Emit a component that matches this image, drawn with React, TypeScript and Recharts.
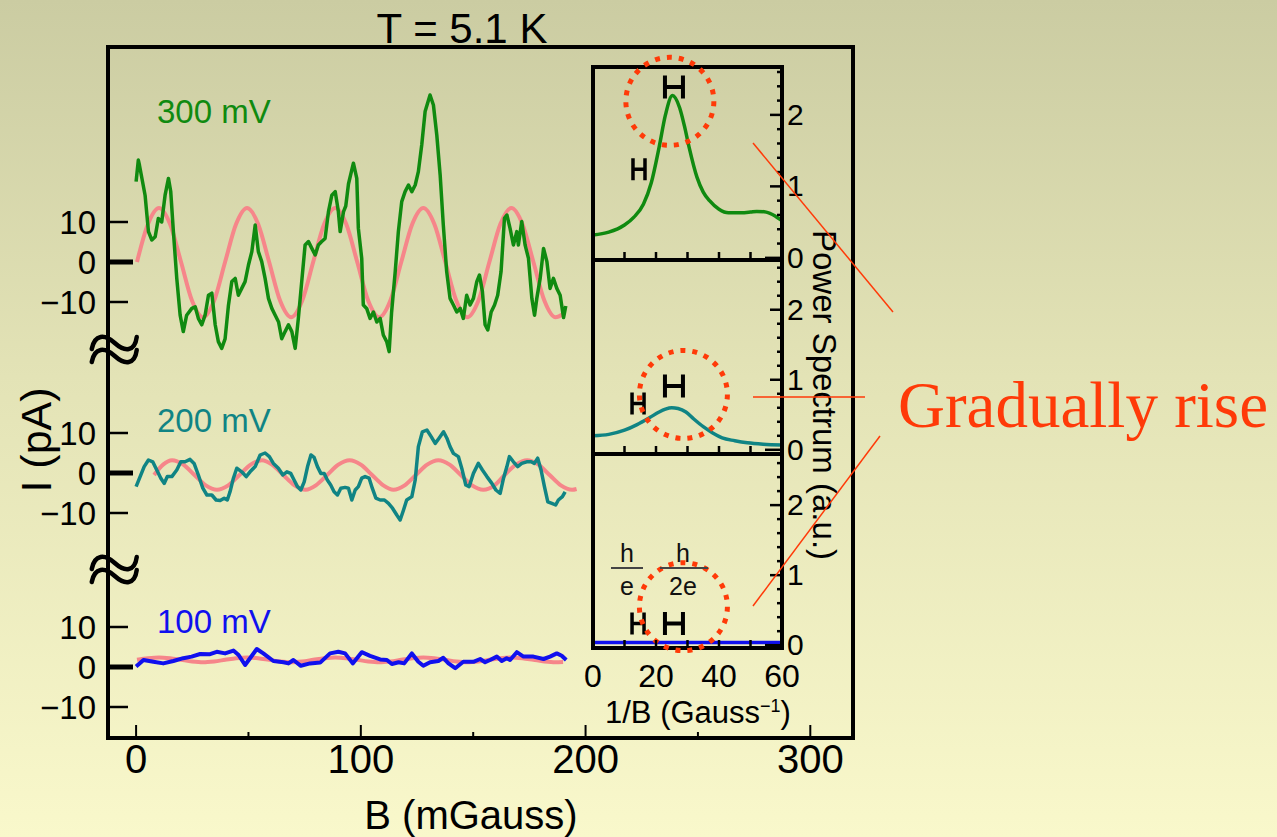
import React from 'react';
import { LineChart, Line, XAxis, YAxis, ReferenceDot } from 'recharts';

const FONT = '"Liberation Sans", Arial, Helvetica, sans-serif';

// ---- main panel: I (pA) vs B (mGauss), three bias voltages stacked ----
const TRACE_300: [number, number][] = [
  [0, 20.1], [1, 25.5], [1.5, 24.2], [4, 16.7], [5.5, 7.6], [7, 5.5], [8.5, 6.3], [9.9, 10.9], [11.4, 10],
  [12.9, 16.7], [14.4, 20.9], [15.4, 17.7], [16.6, 7.6], [18.1, -4.1], [19.6, -13.3], [21, -17.4], [22.5, -13.3],
  [24.8, -11.6], [26.3, -11.2], [27.7, -14.1], [29.2, -15.7], [30.7, -13.3], [32.2, -8.3], [33.7, -7.8],
  [35.2, -15.7], [36.6, -19.9], [38.1, -21.6], [39.6, -19.2], [41.1, -10.8], [42.6, -4.9], [44.1, -4.1],
  [45.5, -8.3], [47, -6.6], [48.5, -4.9], [50, -0.75], [51.5, 2.6], [53, 9.25], [54.4, 2.6], [55.9, 0.1],
  [57.4, -4.1], [58.9, -9.1], [60.4, -11.6], [61.9, -13.3], [63.4, -15], [64.8, -19.2], [66.3, -17.4],
  [67.8, -15.7], [69.3, -17.4], [70.8, -21.6], [72.2, -14.1], [73.7, -4.9], [75.2, 4.25], [76.7, 5.1],
  [78.2, 3.4], [79.7, 1.75], [81.1, 4.25], [82.6, 5.1], [84.1, 5.9], [85.6, 12.6], [87.1, 16.7], [88.6, 17.6],
  [90, 12.6], [90.8, 7.6], [92.3, 12.6], [93.3, 14], [94.5, 19.5], [96.7, 24.7], [98.2, 20.9], [98.9, 8.4],
  [100.4, 0.9], [101.1, -10.75], [102.6, -11.6], [104.1, -14.1], [105.6, -12.5], [107.1, -15], [108.6, -14.1],
  [110, -18.25], [111.5, -19.9], [112.6, -22.4], [113.7, -12.5], [115.3, -2.4], [116.7, 7.6], [118.2, 15.1],
  [119.7, 17.6], [121.2, 19.25], [122.7, 17.6], [124.2, 19.25], [125.6, 22.6], [127.1, 29.25], [128.6, 37.6],
  [130.8, 41.75], [132.3, 39.25], [133.8, 31.75], [135.3, 21.75], [136.7, 9.25], [138.2, -2.4], [139.7, -9.1],
  [141.2, -10.75], [142.7, -12.5], [144.2, -11.6], [145.6, -14.1], [147.1, -8.3], [148.6, -10.75], [150.1, -9.1],
  [151.6, -4.9], [152.8, -3.25], [154.1, -7.4], [155.3, -15.7], [156.5, -17], [158, -12.5], [159.5, -10.75],
  [160.9, -8.3], [162.4, -2.4], [163.9, 10.9], [165, 11.75], [166.4, 8.4], [167.9, 4.25], [169.4, 7.6],
  [170.1, 4.25], [171.6, 10.1], [173.1, 4.25], [174.6, 0.9], [176.1, -9.1], [177.3, -13.3], [178.3, -9.1],
  [179.8, -4.1], [181.3, 3.4], [182.8, 0.1], [184.2, -6.6], [185.7, -4.1], [187.2, -6.6], [188.7, -8.3],
  [190.2, -13.9], [191.2, -11],
];

const TRACE_200: [number, number][] = [
  [0, -3.4], [1.8, -0.9], [3.6, 1.6], [5.5, 3.25], [7.4, 2.8], [9.2, 0.75], [11, -1.3], [12.5, -2.6],
  [13.9, -0.9], [15.9, -0.9], [18.1, 0.75], [19.9, 2.8], [21.8, 2.8], [24, 3.4], [25.8, 2.4], [27.7, -0.5],
  [29.7, -3.8], [31.5, -5.5], [33.7, -5.5], [35.6, -6.75], [37.4, -6.9], [39.2, -6.3], [40.6, -6.75],
  [41.8, -4.7], [43.3, -1.3], [44.8, 1.2], [47, 0.3], [49, -0.9], [50.7, 0.3], [53, 1.6], [55.2, 4.5],
  [57.4, 5], [59.3, 4.1], [61.1, 2.4], [63.3, 1.2], [65.3, -0.5], [67.1, 0.3], [68.8, -0.1], [70.3, -1.75],
  [71.8, -3.4], [73.3, -4.25], [74.8, -2.2], [76.3, 1.6], [77.8, 4.5], [79.2, 3.9], [80.7, 1.6], [82.2, -0.1],
  [83.7, -0.1], [85.1, -1.75], [86.6, -3], [88.1, -4.7], [89.6, -5.5], [91.1, -3.8], [93, -3.6], [94.5, -3.8],
  [96, -6.75], [97.5, -4.25], [98.9, -3.4], [100.4, -1.3], [101.9, -0.9], [103.7, -1.3], [105.1, -3.8],
  [106.7, -6.3], [108.6, -6.75], [110.5, -6.75], [112.3, -7.6], [114.1, -8.8], [116, -10.5], [117.5, -11.75],
  [119, -9.25], [120.4, -6.75], [122.7, -5.9], [124.2, -1.75], [125.6, 6.6], [127.4, 10.3], [129.4, 10.75],
  [131.3, 9.1], [133.1, 7.4], [134.8, 8.7], [136.8, 10.3], [138.3, 8.7], [139.7, 6.6], [141.2, 4.9],
  [143.4, 4.1], [144.9, 1.2], [146.7, -3], [148.2, -3.4], [150.1, -0.1], [152.3, 2.4], [154.1, 0.75],
  [156.1, -0.9], [158.3, -2.6], [160.1, -4.25], [162, -5.1], [163.5, -1.3], [165, 1.6], [166.1, 4.1],
  [167.9, 2.8], [169.8, 1.6], [171.6, 2.4], [173.8, 2.8], [175.8, 2.8], [177.2, 2.4], [178.7, 3.7],
  [180.2, 0.75], [181.7, -3.4], [183.2, -7.2], [185, -7.6], [186.7, -8], [187.9, -6.75], [189.7, -5.9],
  [190.9, -4.7],
];

const TRACE_100: [number, number][] = [
  [0, 0.1], [3.3, 1.75], [7.7, 1.3], [12.1, 0.9], [16.6, 1.5], [21, 2.2], [24.7, 2.6], [28.5, 3.25],
  [32.9, 3.2], [35.9, 3.8], [39.6, 3.4], [43.3, 4.1], [45.6, 3], [48.5, 0.5], [50.7, 2.2], [53.7, 4.5],
  [56.6, 3.4], [61.1, 1.5], [65.6, 1.2], [67.8, 0.9], [70, 1.75], [73.3, 0.3], [77.4, 0.9], [81.9, 1.1],
  [86.3, 3.4], [90, 3.8], [93, 3.4], [96.4, 0.9], [100.4, 3.7], [104.1, 2.8], [108.6, 1.9], [111.6, 1.75],
  [113.8, 0.75], [116.8, 1.2], [119.3, 0.9], [122.7, 3.4], [125.6, 1.3], [127.8, 0.3], [130.8, 1.2],
  [134.5, 1.5], [136.7, 2.3], [139, 0.9], [142, -0.3], [145.6, 1.3], [150.1, 1.3], [153.1, 2], [155.3, 1.2],
  [157.5, 1.75], [160.5, 2.6], [162.7, 1.5], [164.9, 2.2], [166.4, 1.75], [169.4, 3.7], [172.4, 2.6],
  [176.8, 2.6], [181.3, 2], [184.2, 2.6], [187.2, 3.4], [189.4, 2.8], [191.4, 1.75],
];

// sinusoidal fits (pink)
const FIT_B = [0.4, 5.3, 10.2, 15.1, 20, 24.9, 29.8, 34.7, 39.6, 44.5, 49.4, 54.3, 59.2, 64.1, 69, 73.9, 78.8,
  83.7, 88.6, 93.5, 98.4, 103.3, 108.2, 113.1, 118, 122.9, 127.8, 132.7, 137.6, 142.5, 147.4, 152.3, 157.2,
  162.1, 167, 171.9, 176.8, 181.7, 186.6, 190];
const FIT_300 = [0, 9.5, 13.5, 9.5, 0, -9.7, -13.8, -9.7, 0, 9.5, 13.5, 9.5, 0, -9.7, -13.8, -9.7, 0, 9.5, 13.5,
  9.5, 0, -9.7, -13.8, -9.7, 0, 9.5, 13.5, 9.5, 0, -9.7, -13.8, -9.7, 0, 9.5, 13.5, 9.5, 0, -9.7, -13.8, -13];
const FIT_100 = [1.8, 2.2, 2.4, 2.2, 1.8, 1.4, 1.2, 1.4, 1.8, 2.2, 2.4, 2.2, 1.8, 1.4, 1.2, 1.4, 1.8, 2.2, 2.4,
  2.2, 1.8, 1.4, 1.2, 1.4, 1.8, 2.2, 2.4, 2.2, 1.8, 1.4, 1.2, 1.4, 1.8, 2.2, 2.4, 2.2, 1.8, 1.4, 1.2, 1.25];
const FIT200_B = [8, 12, 16, 21, 26, 31, 36, 41, 46, 51, 56, 60.5, 65.5, 70.5, 75.5, 80, 85, 90, 95, 100, 105,
  110, 114.5, 119.5, 124.5, 129.5, 134.5, 139.5, 144.5, 149.5, 154.5, 159.5, 164, 169, 174, 179, 184, 189, 194, 196];
const FIT_200 = [-0.5, 2.1, 3.2, 2.1, -0.5, -3.1, -4.2, -3.1, -0.5, 2.1, 3.2, 2.1, -0.5, -3.1, -4.2, -3.1, -0.5,
  2.1, 3.2, 2.1, -0.5, -3.1, -4.2, -3.1, -0.5, 2.1, 3.2, 2.1, -0.5, -3.1, -4.2, -3.1, -0.5, 2.1, 3.2, 2.1, -0.5,
  -3.1, -4.2, -4.0];

const GROUP_OFFSET = [0, 48.5, 101.25]; // 100, 200, 300 mV traces stacked
const Y_TICKS = [-10, 0, 10];
const X_TICKS = [0, 50, 100, 150, 200, 250, 300];
const X_LABELS = [0, 100, 200, 300];
const BREAKS = [24.25, 79.25];

// ---- inset: power spectrum vs 1/B ----
const PS_300: [number, number][] = [
  [0, 0.32], [5, 0.36], [10, 0.46], [13, 0.57], [16, 0.75], [18.5, 1.05], [21, 1.55], [23, 2.0], [25.2, 2.27],
  [27.5, 2.1], [29, 1.85], [30.5, 1.55], [33, 1.13], [35, 0.92], [37, 0.8], [40, 0.68], [43, 0.63], [47, 0.63],
  [50, 0.64], [52, 0.65], [55, 0.64], [58, 0.58], [60, 0.52],
];
const PS_200: [number, number][] = [
  [0, 0.2], [5, 0.22], [10, 0.28], [14, 0.36], [18, 0.46], [21, 0.54], [23, 0.58], [25, 0.6], [27, 0.59],
  [29.5, 0.54], [32, 0.44], [35, 0.33], [38, 0.24], [41, 0.17], [45, 0.13], [49, 0.1], [54, 0.08], [60, 0.07],
];
const PS_100: [number, number][] = [
  [0, 0.04], [10, 0.04], [20, 0.04], [30, 0.04], [40, 0.04], [50, 0.04], [60, 0.04],
];
const INV_B_TICKS = [0, 10, 20, 30, 40, 50, 60];
const INV_B_LABELS = [0, 20, 40, 60];
const PS_TICKS = [0, 0.2, 0.4, 0.6, 0.8, 1, 1.2, 1.4, 1.6, 1.8, 2, 2.2, 2.4, 2.6];

const GREEN = '#108a10';
const TEAL = '#108484';
const BLUE = '#1010ee';
const PINK = '#f6868a';
const RED = '#ff3a08';

const toRows = (pts: [number, number][], off = 0) => pts.map(([b, v]) => ({ b, v: v + off }));
const fitRows = (xs: number[], ys: number[], off: number) => xs.map((b, i) => ({ b, v: ys[i] + off }));

function MainYTick({ x, y, payload }: any) {
  const v = payload.value;
  const off = GROUP_OFFSET.find((o) => Math.abs(v - o) <= 10.01) ?? 0;
  const lab = Math.round(v - off);
  const zero = lab === 0;
  return (
    <g>
      <line x1={x} x2={x + (zero ? 25 : 20)} y1={y} y2={y} stroke="#000" strokeWidth={zero ? 5 : 2.5} />
      <text x={x - 12} y={y + 12} textAnchor="end" fontSize={33} fontFamily={FONT} fill="#000">
        {lab < 0 ? `\u2212${-lab}` : lab}
      </text>
    </g>
  );
}

function MainXTick({ x, y, payload, top }: any) {
  const v = payload.value;
  const major = X_LABELS.includes(v);
  const len = major ? 13 : 6;
  return (
    <g>
      <line x1={x} x2={x} y1={y} y2={top ? y + len : y - len} stroke="#000" strokeWidth={2} />
      {!top && major && (
        <text x={x} y={y + 35} textAnchor="middle" fontSize={40} fontFamily={FONT} fill="#000">{v}</text>
      )}
    </g>
  );
}

function PsYTick({ x, y, payload }: any) {
  const v = payload.value;
  const major = Math.abs(v - Math.round(v)) < 1e-6;
  const len = v === 0 ? 17 : major ? 12 : 5;
  return (
    <g>
      <line x1={x} x2={x - len} y1={y} y2={y} stroke="#000" strokeWidth={2.5} />
      {major && (
        <text x={x + 5} y={y + 10} fontSize={30} fontFamily={FONT} fill="#000">{Math.round(v)}</text>
      )}
    </g>
  );
}

function PsXTick({ x, y, payload, labels }: any) {
  const v = payload.value;
  return (
    <g>
      {v > 0 && v < 60 && <line x1={x} x2={x} y1={y} y2={y - 8} stroke="#000" strokeWidth={2.5} />}
      {labels && INV_B_LABELS.includes(v) && (
        <text x={x} y={y + 39} textAnchor="middle" fontSize={32} fontFamily={FONT} fill="#000">{v}</text>
      )}
    </g>
  );
}

const tilde = (cx: number, cy: number) =>
  `M ${cx - 23} ${cy + 6} C ${cx - 20} ${cy - 9}, ${cx - 10} ${cy - 9}, ${cx} ${cy} S ${cx + 20} ${cy + 9}, ${cx + 22} ${cy - 6}`;

const BreakMark = ({ cx, cy }: any) => (
  <g fill="none" stroke="#000" strokeWidth={4.5} strokeLinecap="round">
    <path d={tilde(cx, cy - 7)} />
    <path d={tilde(cx, cy + 6)} />
  </g>
);

const HMark = ({ cx, cy, w, h, sw }: any) => (
  <path
    d={`M ${cx - w} ${cy - h} V ${cy + h} M ${cx + w} ${cy - h} V ${cy + h} M ${cx - w} ${cy} H ${cx + w}`}
    stroke="#000" strokeWidth={sw} fill="none"
  />
);

const Ring = ({ cx, cy }: any) => (
  <circle cx={cx} cy={cy} r={44} fill="none" stroke={RED} strokeWidth={5} strokeDasharray="5 7" />
);

const PANELS = [
  { data: PS_300, color: GREEN, top: 67, bottom: 260, domain: [-0.03, 2.67], ring: [24.4, 2.19], big: [25.7, 2.39], small: [14.6, 1.24], labels: false },
  { data: PS_200, color: TEAL, top: 260, bottom: 454, domain: [-0.06, 2.71], ring: [28.7, 0.79], big: [25.7, 0.91], small: [14.3, 0.66], labels: false },
  { data: PS_100, color: BLUE, top: 454, bottom: 648, domain: [-0.04, 2.73], ring: [28.7, 0.55], big: [25.7, 0.31], small: [14.3, 0.31], labels: true },
];

function Panel({ p }: any) {
  const xh = p.labels ? 60 : 1;
  const height = 20 + (p.bottom - p.top) + xh + 24;
  return (
    <div style={{ position: 'absolute', left: 583, top: p.top - 20 }}>
      <LineChart width={269} height={height} margin={{ top: 19, right: 10, bottom: 24, left: 9 }}>
        <XAxis dataKey="b" type="number" domain={[0, 60]} ticks={INV_B_TICKS} interval={0} allowDataOverflow
          height={xh} tickSize={0} tickMargin={0} tickLine={false}
          axisLine={{ stroke: '#000', strokeWidth: 4, strokeLinecap: 'square' }}
          tick={(t: any) => <PsXTick {...t} labels={p.labels} />} />
        <XAxis xAxisId="top" orientation="top" dataKey="b" type="number" domain={[0, 60]} height={1}
          tick={false} tickLine={false} axisLine={{ stroke: '#000', strokeWidth: 4, strokeLinecap: 'square' }} />
        <YAxis yAxisId="l" type="number" domain={p.domain} width={1} tick={false} tickLine={false}
          axisLine={{ stroke: '#000', strokeWidth: 4, strokeLinecap: 'square' }} />
        <YAxis yAxisId="r" orientation="right" type="number" domain={p.domain} ticks={PS_TICKS} interval={0}
          allowDataOverflow width={60} tickSize={0} tickMargin={0} tickLine={false}
          axisLine={{ stroke: '#000', strokeWidth: 4, strokeLinecap: 'square' }} tick={PsYTick} />
        <Line yAxisId="r" data={toRows(p.data)} dataKey="v" type="monotone" stroke={p.color} strokeWidth={3.5}
          dot={false} activeDot={false} isAnimationActive={false} />
        <ReferenceDot yAxisId="r" x={p.small[0]} y={p.small[1]} ifOverflow="visible"
          shape={(s: any) => <HMark cx={s.cx} cy={s.cy} w={6} h={11} sw={3.5} />} />
        <ReferenceDot yAxisId="r" x={p.big[0]} y={p.big[1]} ifOverflow="visible"
          shape={(s: any) => <HMark cx={s.cx} cy={s.cy} w={9} h={11.5} sw={4} />} />
        <ReferenceDot yAxisId="r" x={p.ring[0]} y={p.ring[1]} ifOverflow="visible" shape={Ring} />
      </LineChart>
    </div>
  );
}

export default function App() {
  const yTicks = GROUP_OFFSET.flatMap((o) => Y_TICKS.map((t) => o + t));
  const frame = { stroke: '#000', strokeWidth: 4, strokeLinecap: 'square' as const };
  const fits = [
    fitRows(FIT_B, FIT_100, GROUP_OFFSET[0]),
    fitRows(FIT200_B, FIT_200, GROUP_OFFSET[1]),
    fitRows(FIT_B, FIT_300, GROUP_OFFSET[2]),
  ];
  return (
    <div style={{
      position: 'absolute', left: 0, top: 0, width: 1277, height: 837, overflow: 'hidden',
      background: 'linear-gradient(to bottom, #cbcca2 0%, #e3e3b6 45%, #f9f8cb 100%)', fontFamily: FONT,
    }}>
      <div style={{ position: 'absolute', left: 0, top: 0 }}>
        <LineChart width={1277} height={837} margin={{ top: 46, right: 423, bottom: 39, left: 48 }}>
          <XAxis dataKey="b" type="number" domain={[-12.5, 319]} ticks={X_TICKS} interval={0} allowDataOverflow
            height={60} tickSize={0} tickMargin={0} tickLine={false} axisLine={frame}
            tick={(t: any) => <MainXTick {...t} />} />
          <XAxis xAxisId="top" orientation="top" dataKey="b" type="number" domain={[-12.5, 319]} ticks={X_TICKS}
            interval={0} height={1} tickSize={0} tickMargin={0} tickLine={false} axisLine={frame}
            tick={(t: any) => <MainXTick {...t} top />} />
          <YAxis type="number" domain={[-17.75, 155]} ticks={yTicks} interval={0} allowDataOverflow width={60}
            tickSize={0} tickMargin={0} tickLine={false} axisLine={frame} tick={MainYTick} />
          <YAxis yAxisId="r" orientation="right" type="number" domain={[-17.75, 155]} width={1}
            tick={false} tickLine={false} axisLine={frame} />
          {fits.map((rows, i) => (
            <Line key={`fit-${i}`} data={rows} dataKey="v" type="monotone" stroke={PINK} strokeWidth={4}
              dot={false} activeDot={false} isAnimationActive={false} />
          ))}
          <Line data={toRows(TRACE_100, GROUP_OFFSET[0])} dataKey="v" type="linear" stroke={BLUE} strokeWidth={4}
            strokeLinejoin="round" dot={false} activeDot={false} isAnimationActive={false} />
          <Line data={toRows(TRACE_200, GROUP_OFFSET[1])} dataKey="v" type="linear" stroke={TEAL} strokeWidth={3.5}
            strokeLinejoin="round" dot={false} activeDot={false} isAnimationActive={false} />
          <Line data={toRows(TRACE_300, GROUP_OFFSET[2])} dataKey="v" type="linear" stroke={GREEN} strokeWidth={3.5}
            strokeLinejoin="round" dot={false} activeDot={false} isAnimationActive={false} />
          {BREAKS.map((y) => (
            <ReferenceDot key={y} x={-9.5} y={y} ifOverflow="visible" shape={BreakMark} />
          ))}
        </LineChart>
      </div>

      {PANELS.map((p, i) => <Panel key={i} p={p} />)}

      <svg width={1277} height={837} style={{ position: 'absolute', left: 0, top: 0, pointerEvents: 'none' }}
        fontFamily={FONT}>
        <text x={462} y={43} textAnchor="middle" fontSize={42} fill="#000">T = 5.1 K</text>
        <text x={471} y={829} textAnchor="middle" fontSize={40} fill="#000">B (mGauss)</text>
        <text transform="translate(51,440) rotate(-90)" textAnchor="middle" fontSize={43} fill="#000">I (pA)</text>
        <text x={157} y={123} fontSize={33} fill={GREEN}>300 mV</text>
        <text x={157} y={432} fontSize={33} fill={TEAL}>200 mV</text>
        <text x={157} y={633} fontSize={33} fill={BLUE}>100 mV</text>
        <text transform="translate(813,395) rotate(90)" textAnchor="middle" fontSize={33} fill="#000">
          Power Spectrum (a.u.)
        </text>
        <text x={605} y={723} fontSize={31} fill="#000">
          1/B (Gauss<tspan dy={-11} fontSize={18}>{'\u22121'}</tspan><tspan dy={11}>)</tspan>
        </text>
        <text x={627} y={562} textAnchor="middle" fontSize={25} fill="#111">h</text>
        <line x1={611} x2={643} y1={568} y2={568} stroke="#444" strokeWidth={2} />
        <text x={627} y={595} textAnchor="middle" fontSize={25} fill="#111">e</text>
        <text x={683} y={562} textAnchor="middle" fontSize={25} fill="#111">h</text>
        <line x1={660} x2={708} y1={568} y2={568} stroke="#444" strokeWidth={2} />
        <text x={683} y={595} textAnchor="middle" fontSize={25} fill="#111">2e</text>
        <line x1={753} y1={143} x2={893} y2={312} stroke={RED} strokeWidth={1.5} />
        <line x1={753} y1={397} x2={865} y2={397} stroke={RED} strokeWidth={1.5} />
        <line x1={753} y1={606} x2={880} y2={436} stroke={RED} strokeWidth={1.5} />
        <text x={898} y={427} fontFamily='"Liberation Serif", "Times New Roman", serif' fontSize={65} fill={RED}>
          Gradually rise
        </text>
      </svg>
    </div>
  );
}
